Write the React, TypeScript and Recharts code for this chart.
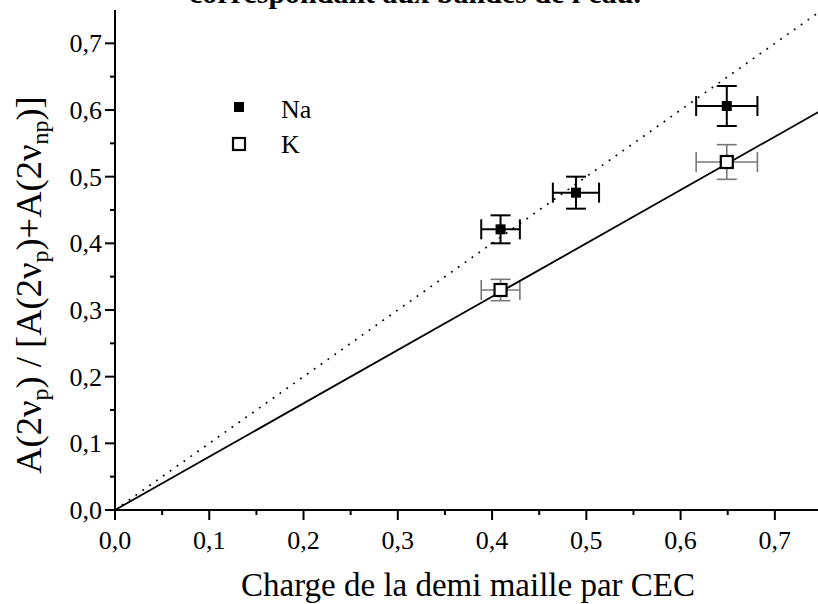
import React from 'react';
import { ComposedChart, Scatter, XAxis, YAxis, ErrorBar } from 'recharts';

// Data
const naPoints = [
  { x: 0.409, y: 0.421, ex: 0.0205, ey: 0.021 },
  { x: 0.489, y: 0.476, ex: 0.0245, ey: 0.024 },
  { x: 0.649, y: 0.606, ex: 0.0325, ey: 0.03 },
];
const kPoints = [
  { x: 0.409, y: 0.33, ex: 0.0205, ey: 0.016 },
  { x: 0.649, y: 0.522, ex: 0.0325, ey: 0.026 },
];
const naFit = [
  { x: 0, y: 0 },
  { x: 0.75, y: 0.75 },
];
const kFit = [
  { x: 0, y: 0 },
  { x: 0.75, y: 0.6 },
];
const axisTicks = [0, 0.05, 0.1, 0.15, 0.2, 0.25, 0.3, 0.35, 0.4, 0.45, 0.5, 0.55, 0.6, 0.65, 0.7];
const majorTicks = [0, 0.1, 0.2, 0.3, 0.4, 0.5, 0.6, 0.7];
const seriesNames = ['Na', 'K'];
const xTitle = 'Charge de la demi maille par CEC';
const chartTitle = "correspondant aux bandes de l'eau.";

const FONT = '"Liberation Serif", "Times New Roman", serif';
const textStyle = { fontFamily: FONT };

const isMajor = (v: number) => majorTicks.some((m) => Math.abs(m - v) < 1e-6);
const fmt = (v: number) => v.toFixed(1).replace('.', ',');

const BottomTick = (props: any) => {
  const { x, y, payload } = props;
  const major = isMajor(payload.value);
  return (
    <g>
      <line x1={x} x2={x} y1={y} y2={y + (major ? 10 : 5)} stroke="#000" strokeWidth={2} />
      {major && (
        <text x={x} y={y + 39} textAnchor="middle" style={textStyle} fontSize={26} fill="#000">
          {fmt(payload.value)}
        </text>
      )}
    </g>
  );
};

const LeftTick = (props: any) => {
  const { x, y, payload } = props;
  const major = isMajor(payload.value);
  return (
    <g>
      <line x1={x} x2={x - (major ? 10 : 5)} y1={y} y2={y} stroke="#000" strokeWidth={2} />
      {major && (
        <text x={x - 13} y={y + 9} textAnchor="end" style={textStyle} fontSize={26} fill="#000">
          {fmt(payload.value)}
        </text>
      )}
    </g>
  );
};

const RightTick = (props: any) => {
  const { x, y, payload } = props;
  const major = isMajor(payload.value);
  return <line x1={x} x2={x - (major ? 9 : 4)} y1={y} y2={y} stroke="#000" strokeWidth={2} />;
};

const NaShape = (props: any) => {
  const { cx, cy } = props;
  return <rect x={cx - 5} y={cy - 5} width={10} height={10} fill="#000" />;
};
const KShape = (props: any) => {
  const { cx, cy } = props;
  return <rect x={cx - 6} y={cy - 6} width={12} height={12} fill="#fff" stroke="#000" strokeWidth={2.2} />;
};
const NoShape = () => <g />;

const YLabel = () => (
  <text
    x={41}
    y={285}
    transform="rotate(-90, 41, 285)"
    textAnchor="middle"
    style={textStyle}
    fontSize={36.5}
    fill="#000"
  >
    A(2ν
    <tspan dy={7} fontSize={24}>p</tspan>
    <tspan dy={-7}>) / [A(2ν</tspan>
    <tspan dy={7} fontSize={24}>p</tspan>
    <tspan dy={-7}>)+A(2ν</tspan>
    <tspan dy={7} fontSize={24}>np</tspan>
    <tspan dy={-7}>)]</tspan>
  </text>
);

const XLabel = () => (
  <text x={468} y={596} textAnchor="middle" style={textStyle} fontSize={33} fill="#000">
    {xTitle}
  </text>
);

export default function App() {
  return (
    <div style={{ position: 'absolute', left: 0, top: 0, width: 818, height: 604, overflow: 'hidden', background: '#fff' }}>
      <ComposedChart width={830} height={604} margin={{ top: 10, right: 8, bottom: 0, left: 0 }}>
        <XAxis
          xAxisId="b"
          dataKey="x"
          type="number"
          domain={[0, 0.75]}
          allowDataOverflow
          ticks={axisTicks}
          interval={0}
          tick={(p: any) => <BottomTick {...p} />}
          tickSize={0}
          tickMargin={0}
          tickLine={false}
          axisLine={{ stroke: '#000', strokeWidth: 2 }}
          height={94}
          label={<XLabel />}
        />
        <XAxis
          xAxisId="t"
          orientation="top"
          dataKey="x"
          type="number"
          domain={[0, 0.75]}
          allowDataOverflow
          tick={false}
          tickLine={false}
          axisLine={{ stroke: '#000', strokeWidth: 2 }}
          height={0}
        />
        <YAxis
          yAxisId="l"
          dataKey="y"
          type="number"
          domain={[0, 0.75]}
          allowDataOverflow
          ticks={axisTicks}
          interval={0}
          tick={(p: any) => <LeftTick {...p} />}
          tickSize={0}
          tickMargin={0}
          tickLine={false}
          axisLine={{ stroke: '#000', strokeWidth: 2 }}
          width={115}
          label={<YLabel />}
        />
        <YAxis
          yAxisId="r"
          orientation="right"
          dataKey="y"
          type="number"
          domain={[0, 0.75]}
          allowDataOverflow
          ticks={axisTicks}
          interval={0}
          tick={(p: any) => <RightTick {...p} />}
          tickSize={0}
          tickMargin={0}
          tickLine={false}
          axisLine={{ stroke: '#000', strokeWidth: 2 }}
          width={0}
        />
        <Scatter
          xAxisId="b"
          yAxisId="l"
          data={naFit}
          line={{ stroke: '#000', strokeWidth: 1.7, strokeDasharray: '1.8 6.6' }}
          shape={<NoShape />}
          legendType="none"
          isAnimationActive={false}
        />
        <Scatter
          xAxisId="b"
          yAxisId="l"
          data={kFit}
          line={{ stroke: '#000', strokeWidth: 1.8 }}
          shape={<NoShape />}
          legendType="none"
          isAnimationActive={false}
        />
        <Scatter xAxisId="b" yAxisId="l" name={seriesNames[0]} data={naPoints} shape={<NaShape />} isAnimationActive={false}>
          <ErrorBar dataKey="ex" direction="x" width={10} stroke="#000" strokeWidth={2} />
          <ErrorBar dataKey="ey" direction="y" width={10} stroke="#000" strokeWidth={2} />
        </Scatter>
        <Scatter xAxisId="b" yAxisId="l" name={seriesNames[1]} data={kPoints} shape={<KShape />} isAnimationActive={false}>
          <ErrorBar dataKey="ex" direction="x" width={10} stroke="#777" strokeWidth={1.6} />
          <ErrorBar dataKey="ey" direction="y" width={10} stroke="#777" strokeWidth={1.6} />
        </Scatter>
      </ComposedChart>
      <svg width={818} height={170} style={{ position: 'absolute', left: 0, top: 0, pointerEvents: 'none' }}>
        <text x={415} y={3} textAnchor="middle" style={textStyle} fontSize={30} fontWeight="bold" fill="#000">
          {chartTitle}
        </text>
        <rect x={234} y={102} width={10} height={10} fill="#000" />
        <text x={281} y={118} style={textStyle} fontSize={26} fill="#000">{seriesNames[0]}</text>
        <rect x={233} y={138} width={12} height={12} fill="#fff" stroke="#000" strokeWidth={2.2} />
        <text x={281} y={153} style={textStyle} fontSize={26} fill="#000">{seriesNames[1]}</text>
      </svg>
    </div>
  );
}
